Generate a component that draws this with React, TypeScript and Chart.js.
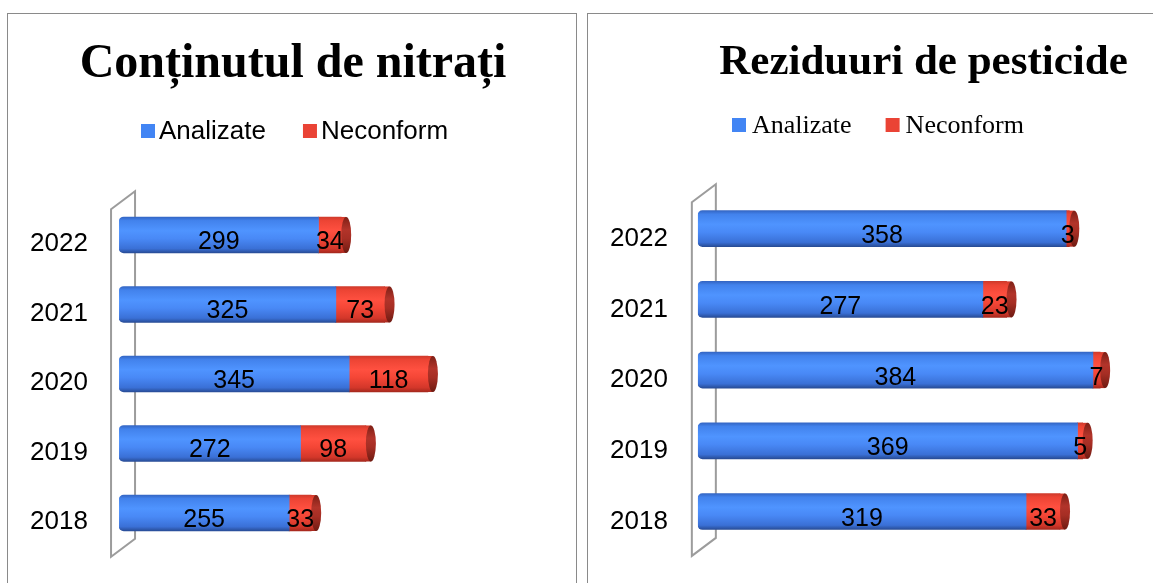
import React, { useEffect, useRef } from 'react';
import { Chart, registerables } from 'chart.js';

Chart.register(...registerables);

// ---------- data ----------
const years = ['2022', '2021', '2020', '2019', '2018'];
const seriesNames = ['Analizate', 'Neconform'];
const nitratiAnalizate = [299, 325, 345, 272, 255];
const nitratiNeconform = [34, 73, 118, 98, 33];
const pesticideAnalizate = [358, 277, 384, 369, 319];
const pesticideNeconform = [3, 23, 7, 5, 33];
const titleNitrati = 'Conținutul de nitrați';
const titlePesticide = 'Reziduuri de pesticide';

// ---------- styles ----------
const SANS = "'Liberation Sans', Arial, sans-serif";
const SERIF = "'Liberation Serif', 'Times New Roman', serif";
const BLUE = '#4285F4';
const RED = '#EA4335';
const BAR_T = 36;

type Stop = [number, string];
const blueStops: Stop[] = [
  [0, '#3466c4'], [0.1, '#4282ec'], [0.38, '#4f94ff'], [0.6, '#4989f6'], [0.88, '#3a70d6'], [1, '#284c96'],
];
const redStops: Stop[] = [
  [0, '#cf3a2b'], [0.1, '#ec4434'], [0.38, '#ff5040'], [0.6, '#f44636'], [0.88, '#d3372a'], [1, '#a5281d'],
];
const capStops: Stop[] = [
  [0, '#7e2016'], [0.35, '#b2342a'], [0.6, '#a62e24'], [1, '#6e1b12'],
];

function grad(c: CanvasRenderingContext2D, top: number, bottom: number, stops: Stop[]) {
  const g = c.createLinearGradient(0, top, 0, bottom);
  stops.forEach(([o, col]) => g.addColorStop(o, col));
  return g;
}

function barFill(stops: Stop[], fallback: string) {
  return (ctx: any) => {
    const chart = ctx.chart;
    const ys = chart.scales && chart.scales.y;
    if (!ys || ctx.dataIndex == null || !chart.chartArea) return fallback;
    const yc = ys.getPixelForValue(ctx.dataIndex);
    if (!isFinite(yc)) return fallback;
    return grad(chart.ctx, yc - BAR_T / 2, yc + BAR_T / 2, stops);
  };
}

const cylinderPlugin = {
  id: 'cyl3d',
  beforeDatasetsDraw(chart: any, _args: any, o: any) {
    const { ctx, chartArea: a } = chart;
    ctx.save();
    ctx.strokeStyle = '#9c9c9c';
    ctx.lineWidth = 2;
    const fx = a.left + o.front;
    const bx = a.left + o.back;
    const d = o.depth;
    ctx.beginPath();
    ctx.moveTo(fx, a.top + d);
    ctx.lineTo(bx, a.top - d);
    ctx.lineTo(bx, a.bottom - d);
    ctx.lineTo(fx, a.bottom + d);
    ctx.closePath();
    ctx.stroke();
    ctx.restore();
  },
  afterDatasetsDraw(chart: any, _args: any, o: any) {
    const { ctx } = chart;
    ctx.save();
    const last = chart.data.datasets.length - 1;
    const meta = chart.getDatasetMeta(last);
    const r = o.capRx;
    meta.data.forEach((el: any) => {
      const { x, y, height } = el.getProps(['x', 'y', 'height'], true);
      const h = height / 2;
      ctx.fillStyle = grad(ctx, y - h, y + h, redStops);
      ctx.fillRect(x - 0.5, y - h, r + 0.5, height);
      ctx.beginPath();
      ctx.ellipse(x + r, y, r, h, 0, 0, Math.PI * 2);
      ctx.fillStyle = grad(ctx, y - h, y + h, capStops);
      ctx.fill();
    });
    ctx.font = `25px ${SANS}`;
    ctx.textAlign = 'center';
    ctx.textBaseline = 'alphabetic';
    ctx.fillStyle = '#000';
    chart.data.datasets.forEach((ds: any, di: number) => {
      const m = chart.getDatasetMeta(di);
      m.data.forEach((el: any, i: number) => {
        const { x, y, base } = el.getProps(['x', 'y', 'base'], true);
        ctx.fillText(String(ds.data[i]), (x + base) / 2, y + o.labelDy);
      });
    });
    ctx.restore();
  },
};

const legendPlugin = {
  id: 'swatchLegend',
  afterDraw(chart: any, _args: any, o: any) {
    const ctx = chart.ctx;
    ctx.save();
    ctx.font = o.font;
    ctx.textAlign = 'left';
    ctx.textBaseline = 'alphabetic';
    let x = o.x;
    chart.data.datasets.forEach((ds: any) => {
      ctx.fillStyle = ds.swatch;
      ctx.fillRect(x, o.boxTop, o.box, o.box);
      x += o.box + o.textGap;
      ctx.fillStyle = '#000';
      ctx.fillText(ds.label, x, o.baseline);
      x += ctx.measureText(ds.label).width + o.itemGap;
    });
    ctx.restore();
  },
};

interface PanelCfg {
  title: string;
  titleSize: number;
  titlePad: { top: number; bottom: number };
  analizate: number[];
  neconform: number[];
  xMax: number;
  padding: { left: number; right: number; top: number; bottom: number };
  tickPad: number;
  labelOffset: number;
  legend: any;
  wall: any;
}

function buildConfig(p: PanelCfg): any {
  return {
    type: 'bar',
    data: {
      labels: years,
      datasets: [
        {
          label: seriesNames[0],
          data: p.analizate,
          swatch: BLUE,
          backgroundColor: barFill(blueStops, BLUE),
          borderWidth: 0,
          borderSkipped: false,
          borderRadius: { topLeft: 5, bottomLeft: 5, topRight: 0, bottomRight: 0 },
          barThickness: BAR_T,
        },
        {
          label: seriesNames[1],
          data: p.neconform,
          swatch: RED,
          backgroundColor: barFill(redStops, RED),
          borderWidth: 0,
          barThickness: BAR_T,
        },
      ],
    },
    options: {
      indexAxis: 'y',
      responsive: false,
      animation: false,
      layout: { padding: p.padding },
      scales: {
        x: { stacked: true, display: false, min: 0, max: p.xMax },
        y: {
          stacked: true,
          grid: { display: false, drawTicks: false },
          border: { display: false },
          ticks: {
            color: '#000',
            font: { family: SANS, size: 26 },
            padding: p.tickPad,
            crossAlign: 'far',
            labelOffset: p.labelOffset,
          },
        },
      },
      plugins: {
        legend: { display: false },
        tooltip: { enabled: false },
        title: {
          display: true,
          text: p.title,
          color: '#000',
          font: { family: SERIF, size: p.titleSize, weight: 'bold', lineHeight: 1.2 },
          padding: p.titlePad,
        },
        swatchLegend: p.legend,
        cyl3d: p.wall,
      },
    },
    plugins: [cylinderPlugin, legendPlugin],
  };
}

function ChartCanvas({ cfg, width, height }: { cfg: PanelCfg; width: number; height: number }) {
  const ref = useRef<HTMLCanvasElement | null>(null);
  useEffect(() => {
    if (!ref.current) return;
    const chart = new Chart(ref.current, buildConfig(cfg));
    return () => chart.destroy();
  }, [cfg]);
  return <canvas ref={ref} width={width} height={height} style={{ display: 'block', width, height }} />;
}

const leftCfg: PanelCfg = {
  title: titleNitrati,
  titleSize: 48,
  titlePad: { top: 22, bottom: 106.6 },
  analizate: nitratiAnalizate,
  neconform: nitratiNeconform,
  xMax: 655,
  padding: { left: 22, right: 19, top: 0, bottom: 35.25 },
  tickPad: 15.6,
  labelOffset: 9,
  legend: { font: `26px ${SANS}`, x: 133, boxTop: 110, box: 14, textGap: 4, itemGap: 37, baseline: 125 },
  wall: { front: -8, back: 16, depth: 9, capRx: 5, labelDy: 14 },
};

const rightCfg: PanelCfg = {
  title: titlePesticide,
  titleSize: 43,
  titlePad: { top: 23, bottom: 104.7 },
  analizate: pesticideAnalizate,
  neconform: pesticideNeconform,
  xMax: 524,
  padding: { left: 22, right: 31, top: 0, bottom: 36.1 },
  tickPad: 15,
  labelOffset: 10,
  legend: { font: `26px ${SERIF}`, x: 144, boxTop: 104, box: 14, textGap: 6, itemGap: 34, baseline: 119 },
  wall: { front: -6, back: 18, depth: 9, capRx: 5, labelDy: 14.5 },
};

export default function App() {
  return (
    <div style={{ position: 'absolute', left: 0, top: 0, width: 1153, height: 583, overflow: 'hidden', background: '#fff' }}>
      <div style={{ position: 'absolute', left: 7, top: 13, width: 570, height: 620, boxSizing: 'border-box', border: '1px solid #8a8a8a' }} />
      <div style={{ position: 'absolute', left: 587, top: 13, width: 700, height: 620, boxSizing: 'border-box', border: '1px solid #8a8a8a' }} />
      <div style={{ position: 'absolute', left: 8, top: 14 }}>
        <ChartCanvas cfg={leftCfg} width={567} height={569} />
      </div>
      <div style={{ position: 'absolute', left: 588, top: 14 }}>
        <ChartCanvas cfg={rightCfg} width={680} height={569} />
      </div>
    </div>
  );
}
